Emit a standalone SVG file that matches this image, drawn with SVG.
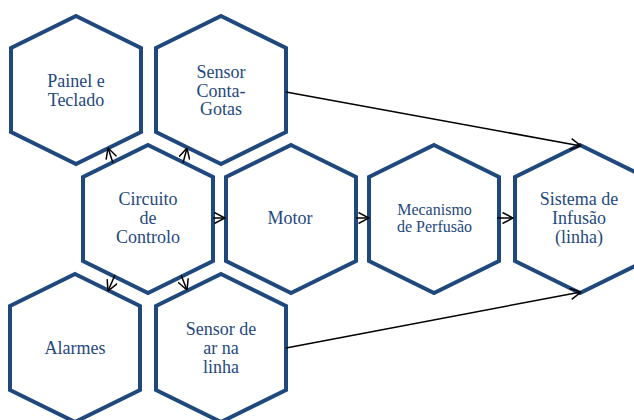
<svg xmlns="http://www.w3.org/2000/svg" width="634" height="420" viewBox="0 0 634 420">
<defs>
<polygon id="hx" points="0,-74 65,-42 65,42 0,74 -65,42 -65,-42" fill="#ffffff" stroke="#1F497D" stroke-width="4"/>
<marker id="ah" viewBox="0 0 12 12" refX="11.5" refY="6" markerWidth="12" markerHeight="12" markerUnits="userSpaceOnUse" orient="auto">
<path d="M1,0.5 L11.5,6 L1,11.5" fill="none" stroke="#000000" stroke-width="1.5"/>
</marker>
</defs>
<rect width="634" height="420" fill="#ffffff"/>
<g id="painel"><use href="#hx" transform="translate(76,90)"/><text x="76" y="87" font-family="Times New Roman" font-size="18" fill="#1F497D" text-anchor="middle">Painel e</text><text x="76" y="106" font-family="Times New Roman" font-size="18" fill="#1F497D" text-anchor="middle">Teclado</text></g>
<g id="sensor-conta-gotas"><use href="#hx" transform="translate(221,90)"/><text x="221" y="78" font-family="Times New Roman" font-size="18" fill="#1F497D" text-anchor="middle">Sensor</text><text x="221" y="96.5" font-family="Times New Roman" font-size="18" fill="#1F497D" text-anchor="middle">Conta-</text><text x="221" y="115" font-family="Times New Roman" font-size="18" fill="#1F497D" text-anchor="middle">Gotas</text></g>
<g id="circuito"><use href="#hx" transform="translate(148,219)"/><text x="148" y="205" font-family="Times New Roman" font-size="18" fill="#1F497D" text-anchor="middle">Circuito</text><text x="148" y="224" font-family="Times New Roman" font-size="18" fill="#1F497D" text-anchor="middle">de</text><text x="148" y="243" font-family="Times New Roman" font-size="18" fill="#1F497D" text-anchor="middle">Controlo</text></g>
<g id="motor"><use href="#hx" transform="translate(291,219)"/><text x="290" y="224" font-family="Times New Roman" font-size="18" fill="#1F497D" text-anchor="middle">Motor</text></g>
<g id="mecanismo"><use href="#hx" transform="translate(434,219)"/><text x="434.5" y="215" font-family="Times New Roman" font-size="16" fill="#1F497D" text-anchor="middle">Mecanismo</text><text x="434.5" y="232" font-family="Times New Roman" font-size="16" fill="#1F497D" text-anchor="middle">de Perfusão</text></g>
<g id="sistema"><use href="#hx" transform="translate(580,219)"/><text x="579" y="205" font-family="Times New Roman" font-size="18" fill="#1F497D" text-anchor="middle">Sistema de</text><text x="579" y="224" font-family="Times New Roman" font-size="18" fill="#1F497D" text-anchor="middle">Infusão</text><text x="579" y="243" font-family="Times New Roman" font-size="18" fill="#1F497D" text-anchor="middle">(linha)</text></g>
<g id="alarmes"><use href="#hx" transform="translate(75,348)"/><text x="75" y="354" font-family="Times New Roman" font-size="18" fill="#1F497D" text-anchor="middle">Alarmes</text></g>
<g id="sensor-ar"><use href="#hx" transform="translate(221,348)"/><text x="221" y="335" font-family="Times New Roman" font-size="18" fill="#1F497D" text-anchor="middle">Sensor de</text><text x="221" y="354" font-family="Times New Roman" font-size="18" fill="#1F497D" text-anchor="middle">ar na</text><text x="221" y="373" font-family="Times New Roman" font-size="18" fill="#1F497D" text-anchor="middle">linha</text></g>
<g id="connectors" fill="none" stroke="#000000" stroke-width="1.5" marker-end="url(#ah)">
<line x1="113" y1="163" x2="108" y2="148"/>
<line x1="183" y1="163" x2="187" y2="148"/>
<line x1="213" y1="218" x2="225" y2="218"/>
<line x1="356" y1="218" x2="369" y2="218"/>
<line x1="497" y1="218" x2="513" y2="218"/>
<line x1="115" y1="275" x2="108" y2="291"/>
<line x1="181" y1="275" x2="187" y2="290"/>
<line x1="286" y1="92" x2="581" y2="146"/>
<line x1="286" y1="348" x2="581" y2="292"/>
</g>
</svg>
